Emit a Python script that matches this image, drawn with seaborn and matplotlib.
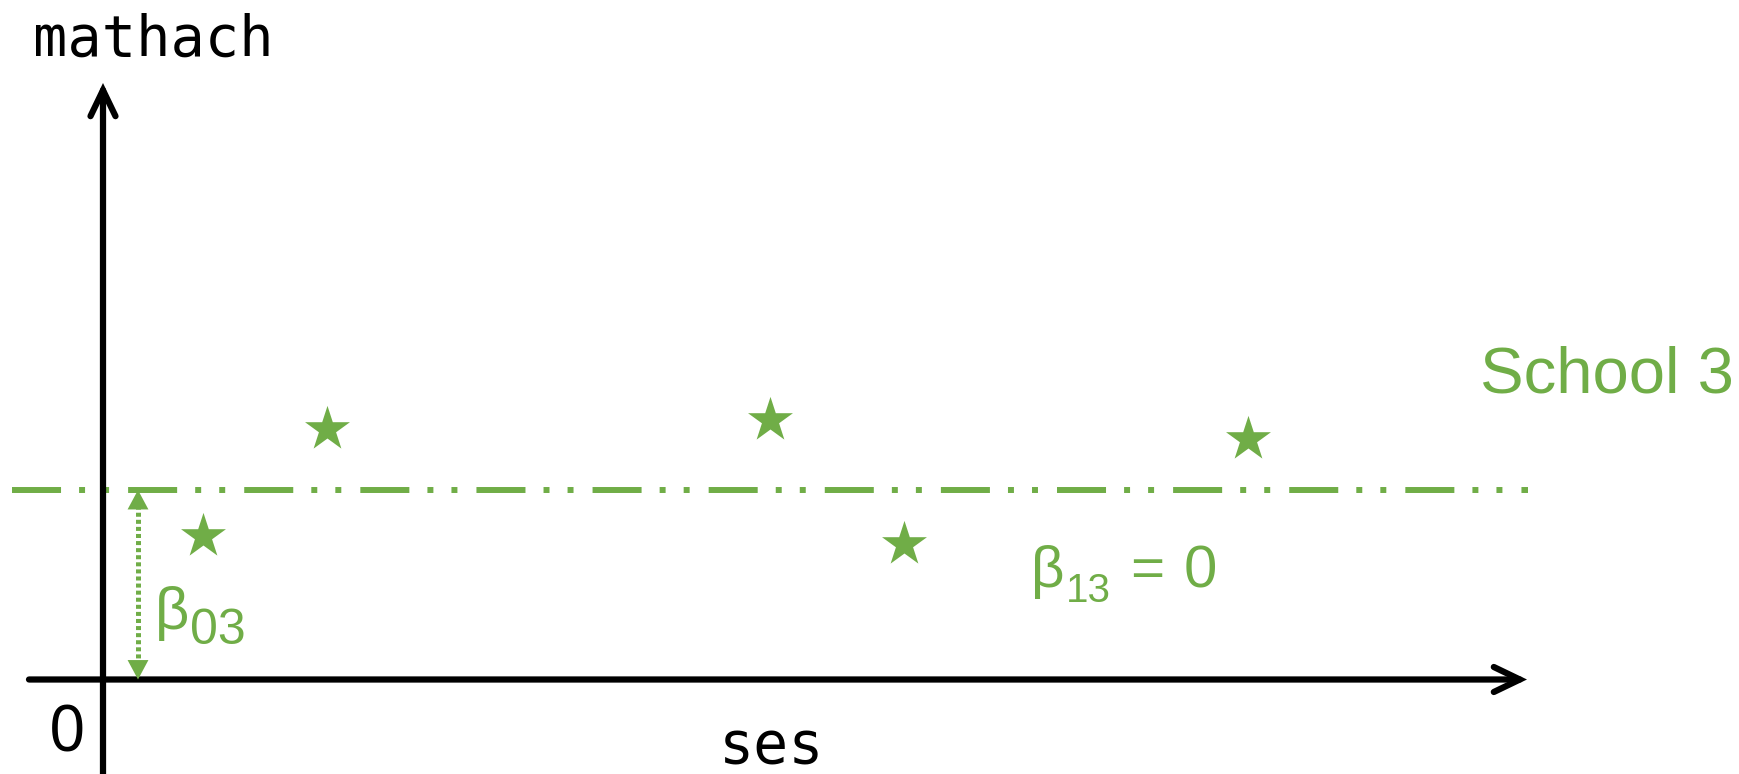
import matplotlib
matplotlib.use("Agg")
import matplotlib.pyplot as plt
import seaborn as sns
import pandas as pd

# ---- data (ses / mathach values, arbitrary units) ----
ses = [1.00, 2.24, 6.67, 8.01, 11.45]
mathach = [1.44, 2.51, 2.60, 1.36, 2.41]
beta03 = 1.895            # intercept of School 3
line_x = [-0.91, 14.25]   # extent of the fitted flat line
school_label = "School 3"

GREEN = "#70AD47"

sns.set_theme(style="white")
plt.rcParams["lines.scale_dashes"] = False
plt.rcParams["font.family"] = ["Liberation Sans", "DejaVu Sans"]

fig = plt.figure(figsize=(17.39, 7.74), dpi=100)
ax = fig.add_axes([0, 0, 1, 1])
ax.set_xlim(-1.03, 16.36)
ax.set_ylim(-0.945, 6.795)
ax.axis("off")

# axes arrows
axis_style = "->,head_length=18.7,head_width=9"
ax.annotate("", xy=(14.24, 0), xytext=(-0.74, 0),
            arrowprops=dict(arrowstyle=axis_style, lw=4.5, color="black",
                            mutation_scale=1, shrinkA=0, shrinkB=0,
                            capstyle="round", joinstyle="miter"))
ax.annotate("", xy=(0, 5.965), xytext=(0, -1.2),
            arrowprops=dict(arrowstyle=axis_style, lw=4.5, color="black",
                            mutation_scale=1, shrinkA=0, shrinkB=0,
                            capstyle="round", joinstyle="miter"))

# fitted flat line (slope 0)
df_line = pd.DataFrame({"ses": line_x, "mathach": [beta03, beta03]})
sns.lineplot(data=df_line, x="ses", y="mathach", color=GREEN, lw=4.3, ax=ax)
ln = ax.lines[-1]
ln.set_dashes((35.3, 13.0, 4.3, 13.0, 4.3, 13.7))
ln.set_dash_capstyle("butt")

# data points
df = pd.DataFrame({"ses": ses, "mathach": mathach})
sns.scatterplot(data=df, x="ses", y="mathach", marker="*", s=34**2,
                color=GREEN, linewidth=0, ax=ax, zorder=5)

# beta03 double arrow (dotted shaft + filled heads)
bx = 0.35
ax.plot([bx, bx], [0.15, beta03 - 0.15], color=GREEN, lw=3.6,
        linestyle=(0, (2.9, 2.2)), dash_capstyle="butt")
ax.annotate("", xy=(bx, beta03), xytext=(bx, 0),
            arrowprops=dict(arrowstyle="<|-|>,head_length=14,head_width=7.5",
                            lw=0, color=GREEN, mutation_scale=1,
                            shrinkA=0, shrinkB=0))

# labels
ax.text(-0.70, 6.24, "mathach", fontsize=41, family="DejaVu Sans Mono",
        color="black", ha="left", va="baseline")
ax.text(6.16, -0.835, "ses", fontsize=42, family="DejaVu Sans Mono",
        color="black", ha="left", va="baseline")
ax.text(-0.355, -0.725, "0", fontsize=46, family=["Noto Sans", "DejaVu Sans"],
        color="black", ha="center", va="baseline")

ax.text(13.77, 2.875, school_label, fontsize=47, color=GREEN,
        ha="left", va="baseline")

ax.text(0.52, 0.505, "β", fontsize=43, color=GREEN, ha="left", va="baseline")
ax.text(0.87, 0.355, "03", fontsize=36, color=GREEN, ha="left", va="baseline")

ax.text(9.28, 0.925, "β", fontsize=42, color=GREEN, ha="left", va="baseline")
ax.text(9.63, 0.775, "13", fontsize=29, color=GREEN, ha="left", va="baseline")
ax.text(10.27, 0.925, "=", fontsize=42, color=GREEN, ha="left", va="baseline")
ax.text(10.81, 0.925, "0", fontsize=43, color=GREEN, ha="left", va="baseline")

fig.savefig("out.png", dpi=100)
